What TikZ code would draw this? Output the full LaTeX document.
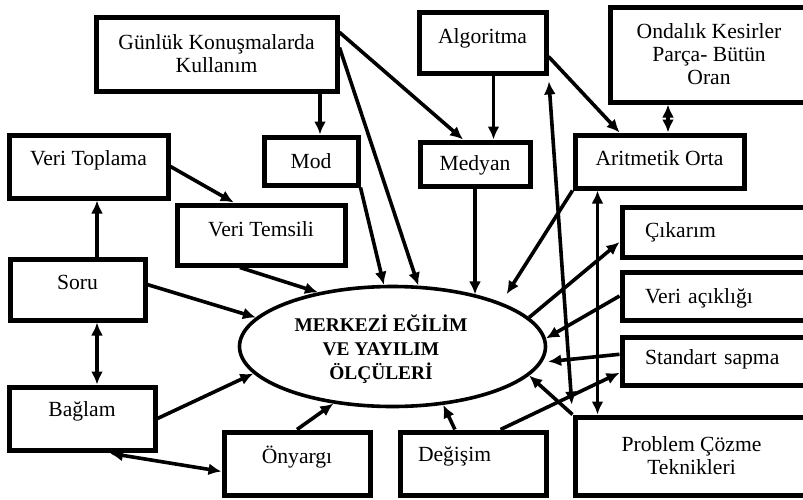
\documentclass[tikz,border=0pt]{standalone}
\usepackage{fontspec}
\setmainfont{Liberation Serif}
\usetikzlibrary{shapes.geometric,arrows.meta}

\begin{document}
\begin{tikzpicture}[x=0.5pt,y=-0.5pt,
			framed/.style={rectangle, draw=black, line width=2.5pt, align=center, font=\fontsize{10.8}{11.5}\selectfont},
			lift/.style={text height=7.5pt, text depth=#1},
			sidebox/.style={align=left, text width=70.5pt, inner xsep=11.5pt},
			oval/.style={ellipse, draw=black, line width=1.8pt, inner sep=0},
			arrow/.style={line width=1.8pt, -{Latex[length=6.5pt,width=6pt]}},
			twoway/.style={line width=1.8pt, {Latex[length=6.5pt,width=6pt]}-{Latex[length=6.5pt,width=6pt]}}]
			
			\useasboundingbox (0,0) rectangle (803,499);
			\clip (0,0) rectangle (803,499);
			
			\node[framed, minimum width=120.5pt, minimum height=37pt] (gun) at (216.5,54) {Günlük Konuşmalarda\\Kullanım};
			\node[framed, lift=8.5pt, minimum width=79.5pt, minimum height=31.5pt] (toplama) at (88.5,166.5) {Veri Toplama};
			\node[framed, lift=0.5pt, minimum width=47pt, minimum height=24pt] (mod) at (311,161) {Mod};
			\node[framed, lift=7pt, minimum width=63.5pt, minimum height=30.5pt] (alg) at (482.5,42.5) {Algoritma};
			\node[framed, lift=1.5pt, minimum width=55pt, minimum height=22pt] (medyan) at (475,164) {Medyan};
			\node[framed, minimum width=99pt, minimum height=47.5pt] (ondalik) at (709,54.5) {Ondalık Kesirler\\Parça- Bütün\\Oran};
			\node[framed, lift=4pt, minimum width=84.5pt, minimum height=26.5pt] (aritmetik) at (659.5,161.5) {Aritmetik Orta};
			\node[framed, lift=6.5pt, minimum width=84pt, minimum height=30pt] (temsil) at (261,235) {Veri Temsili};
			\node[framed, lift=7.5pt, minimum width=67.5pt, minimum height=30.5pt] (soru) at (77.5,289.5) {Soru};
			\node[framed, lift=9.5pt, minimum width=73pt, minimum height=31.5pt] (baglam) at (82,418.5) {Bağlam};
			\node[framed, lift=7.5pt, minimum width=73pt, minimum height=31.5pt] (onyargi) at (297,463.5) {Önyargı};
			\node[framed, lift=10pt, align=left, text width=55pt, inner xsep=9pt, minimum height=31.5pt] (degisim) at (473,463.5) {Değişim};
			\node[framed, minimum width=116.5pt, minimum height=39pt] (problem) at (691.5,456) {Problem Çözme\\Teknikleri};
			\node[framed, sidebox, lift=2pt, minimum height=25pt] (cikarim) at (715.5,232) {Çıkarım};
			\node[framed, sidebox, lift=0.5pt, minimum height=24pt] (aciklik) at (715.5,296) {Veri açıklığı};
			\node[framed, sidebox, lift=4pt, minimum height=24pt] (sapma) at (715.5,361) {Standart sapma};
			
			\node[oval, minimum width=153pt, minimum height=60pt] (merkez) at (392.5,346.5) {};
			\node[font=\fontsize{9.7}{12}\selectfont\bfseries, align=center] (merkeztxt) at (381,349) {MERKEZİ EĞİLİM\\VE YAYILIM\\ÖLÇÜLERİ};
			
			\draw[arrow] ([xshift=4.5pt]mod.north |- gun.south) -- ([xshift=4.5pt]mod.north);
			\draw[arrow] (gun.10) -- (medyan.116);
			\draw[arrow] (gun.3) -- (merkez.67);
			\draw[arrow] (mod.south east) -- (merkez.98);
			\draw[arrow] (medyan.south) -- (medyan.south |- merkez.32);
			\draw[arrow] ([xshift=5.5pt]alg.south) -- ([xshift=5.5pt]alg.south |- medyan.north);
			\draw[arrow] (alg.-12) -- (aritmetik.144);
			\draw[twoway] ([xshift=4.25pt]aritmetik.north) -- ([xshift=4.25pt]aritmetik.north |- ondalik.south);
			\draw[arrow, shorten >=5pt] (aritmetik.south west) -- (merkez.22);
			\draw[twoway] ([xshift=-31pt]aritmetik.south) -- ([xshift=-31pt]aritmetik.south |- problem.north);
			\draw[twoway, shorten <=3pt, shorten >=5pt] (alg.south east) -- (problem.north west);
			\draw[arrow] (problem.north west) -- (merkez.-12);
			\draw[arrow] (merkez.12) -- (cikarim.186);
			\draw[arrow] (aciklik.west) -- (merkez.3);
			\draw[arrow, shorten >=3pt] (sapma.176) -- (merkez.-6);
			\draw[arrow] (degisim.51) -- (sapma.187);
			\draw[arrow] (degisim.118) -- (merkez.-49);
			\draw[arrow] (onyargi.north) -- (merkez.224);
			\draw[twoway, shorten <=2.5pt] ([xshift=11.5pt]baglam.south) -- (onyargi.186);
			\draw[arrow] (baglam.east) -- (merkez.191);
			\draw[twoway] ([xshift=9.75pt]soru.south) -- ([xshift=9.75pt]soru.south |- baglam.north);
			\draw[arrow] (soru.4) -- (merkez.168);
			\draw[arrow] ([xshift=9.75pt]soru.north) -- ([xshift=9.75pt]soru.north |- toplama.south);
			\draw[arrow] (toplama.east) -- (temsil.130);
			\draw[arrow] (temsil.237) -- (merkez.144);
		\end{tikzpicture}
\end{document}
